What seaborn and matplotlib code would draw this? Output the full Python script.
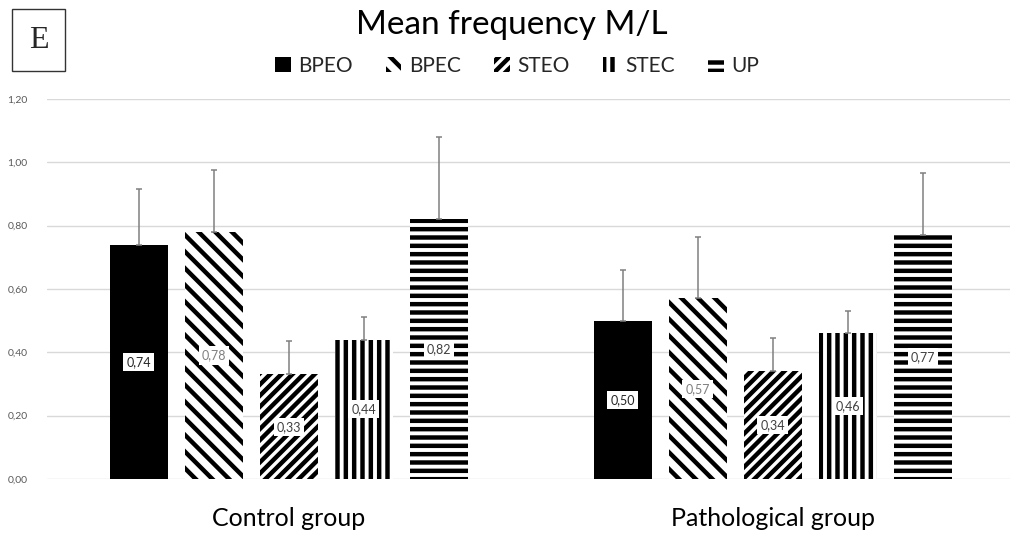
import matplotlib

matplotlib.use("Agg")
import matplotlib.pyplot as plt
import numpy as np
import pandas as pd
import seaborn as sns
from matplotlib.patches import Rectangle
from matplotlib.ticker import FuncFormatter

GROUPS = ["Control group", "Pathological group"]
CONDITIONS = ["BPEO", "BPEC", "STEO", "STEC", "UP"]

CONTROL_MEANS = [0.74, 0.78, 0.33, 0.44, 0.82]
PATHOLOGICAL_MEANS = [0.50, 0.57, 0.34, 0.46, 0.77]
CONTROL_ERR = [0.175, 0.195, 0.105, 0.07, 0.26]
PATHOLOGICAL_ERR = [0.16, 0.195, 0.105, 0.07, 0.195]

HATCHES = {"BPEO": "", "BPEC": "\\\\", "STEO": "///", "STEC": "||", "UP": "--"}
LABEL_COLORS = {"BPEO": "#262626", "BPEC": "#7f7f7f", "STEO": "#404040",
                "STEC": "#404040", "UP": "#404040"}

FONT = ["Lato", "DejaVu Sans"]


def build_frame() -> pd.DataFrame:
    rows = []
    for group, means, errs in [
        (GROUPS[0], CONTROL_MEANS, CONTROL_ERR),
        (GROUPS[1], PATHOLOGICAL_MEANS, PATHOLOGICAL_ERR),
    ]:
        for cond, m, e in zip(CONDITIONS, means, errs):
            rows.append({"group": group, "condition": cond, "value": m, "err": e})
    return pd.DataFrame(rows)


def main() -> None:
    df = build_frame()
    sns.set_theme(style="white")
    plt.rcParams["font.family"] = FONT
    plt.rcParams["hatch.linewidth"] = 3.2

    fig = plt.figure(figsize=(10.10, 5.33), dpi=100)
    ax = fig.add_axes([0.0465, 0.1013, 0.9535, 0.713])

    sns.barplot(
        data=df, x="group", y="value", hue="condition", order=GROUPS,
        hue_order=CONDITIONS, width=0.775, gap=0.22, errorbar=None,
        palette=["black"] + ["white"] * 4, edgecolor="black", linewidth=0,
        legend=False, ax=ax, zorder=2,
    )

    # seaborn draws patches hue by hue, each across the groups
    for i, cond in enumerate(CONDITIONS):
        sub = df[df["condition"] == cond].set_index("group").loc[GROUPS]
        patches = ax.patches[i * len(GROUPS):(i + 1) * len(GROUPS)]
        for patch, (_, row) in zip(patches, sub.iterrows()):
            patch.set_hatch(HATCHES[cond])
            patch.set_edgecolor("black")
            patch.set_linewidth(0)
            cx = patch.get_x() + patch.get_width() / 2
            ax.errorbar(cx, row["value"], yerr=[[0], [row["err"]]], fmt="none",
                        ecolor="#808080", elinewidth=1.1, capsize=2.5, capthick=1.1,
                        zorder=3)
            ax.text(cx, row["value"] / 2, f"{row['value']:.2f}".replace(".", ","),
                    ha="center", va="center", fontsize=9, color=LABEL_COLORS[cond],
                    zorder=4,
                    bbox=dict(boxstyle="square,pad=0.25", fc="white", ec="none"))

    ax.set_ylim(0, 1.2)
    ax.set_xlim(-0.5, 1.49)
    ax.set_yticks(np.arange(0, 1.21, 0.2))
    ax.yaxis.set_major_formatter(FuncFormatter(lambda v, _: f"{v:.2f}".replace(".", ",")))
    ax.tick_params(axis="y", labelsize=7.5, labelcolor="#595959", length=0, pad=14)
    ax.tick_params(axis="x", labelsize=18, labelcolor="black", length=0, pad=20)
    ax.grid(axis="y", color="#d9d9d9", linewidth=1, zorder=0)
    ax.set_axisbelow(True)
    for side in ax.spines.values():
        side.set_visible(False)
    ax.set_xlabel("")
    ax.set_ylabel("")

    # legend with hatched squares
    handles = [
        Rectangle((0, 0), 1, 1, facecolor="black" if c == "BPEO" else "white",
                  edgecolor="black", linewidth=0, hatch=HATCHES[c])
        for c in CONDITIONS
    ]
    fig.legend(handles, CONDITIONS, loc="center", bbox_to_anchor=(0.512, 0.877),
               ncol=5, frameon=False, fontsize=15, handlelength=0.75,
               handleheight=0.75, handletextpad=0.35, columnspacing=1.6)

    fig.text(0.507, 0.953, "Mean frequency M/L", ha="center", va="center",
             fontsize=24, color="black")

    fig.patches.append(Rectangle((12 / 1010, 1 - 71 / 533), 53 / 1010, 62 / 533,
                                 transform=fig.transFigure, fill=False,
                                 edgecolor="#333333", linewidth=1))
    fig.text(38.5 / 1010, 1 - 40 / 533, "E", ha="center", va="center",
             fontsize=23, family=["Liberation Serif", "DejaVu Serif"])

    fig.savefig("out.png", dpi=100)
    plt.close(fig)


if __name__ == "__main__":
    main()
